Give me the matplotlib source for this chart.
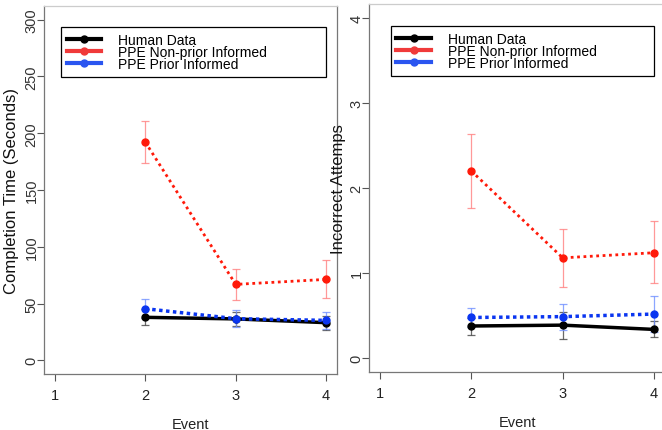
import numpy as np
import matplotlib.pyplot as plt
from matplotlib.lines import Line2D

plt.rcParams['font.family'] = ['Liberation Sans', 'DejaVu Sans']

events = [2, 3, 4]
labels = ["Human Data", "PPE Non-prior Informed", "PPE Prior Informed"]

# completion time (seconds): mean, lower, upper
time_human = [37.9, 36.5, 33.2]
time_human_lo = [31.0, 30.5, 27.0]
time_human_hi = [45.0, 42.5, 39.5]
time_non = [192.2, 66.9, 71.3]
time_non_lo = [173.4, 53.1, 55.2]
time_non_hi = [210.6, 80.7, 88.0]
time_prior = [45.5, 36.7, 35.2]
time_prior_lo = [37.5, 29.3, 28.0]
time_prior_hi = [53.7, 44.3, 42.5]

# incorrect attempts: mean, lower, upper
att_human = [0.38, 0.39, 0.34]
att_human_lo = [0.28, 0.23, 0.25]
att_human_hi = [0.47, 0.55, 0.44]
att_non = [2.20, 1.18, 1.24]
att_non_lo = [1.76, 0.84, 0.89]
att_non_hi = [2.63, 1.52, 1.61]
att_prior = [0.48, 0.49, 0.52]
att_prior_lo = [0.37, 0.33, 0.31]
att_prior_hi = [0.59, 0.64, 0.73]

red = '#ff1a0a'
blue = '#0a35f0'


def draw(ax, series, ylim, yticks, ylabel, leg_box, ylab_x):
    ax.set_xlim(0.88, 4.12)
    ax.set_ylim(*ylim)
    styles = [('black', '-', 2.5, '#444444'),
              (red, (0, (1, 1.3)), 2.0, '#ff8080'),
              (blue, (0, (1, 1.0)), 2.5, '#7090ff')]
    for (m, lo, hi), (c, ls, lw, ec) in zip(series, styles):
        m = np.array(m)
        err = [m - np.array(lo), np.array(hi) - m]
        ax.errorbar(events, m, yerr=err, fmt='none', ecolor=ec,
                    elinewidth=0.9, capsize=3, capthick=0.9, alpha=0.8, zorder=2)
    for (m, lo, hi), (c, ls, lw, ec) in zip(series, styles):
        ax.plot(events, m, color=c, linestyle=ls, lw=lw, marker='o',
                markersize=5, zorder=3)
    ax.set_xticks([1, 2, 3, 4])
    ax.set_yticks(yticks)
    ax.tick_params(axis='x', length=5, width=0.8, color='#555555',
                   labelsize=10.5, pad=5, labelcolor='#222222')
    ax.tick_params(axis='y', length=5, width=0.8, color='#555555',
                   labelsize=10.5, pad=-1, labelcolor='#333333')
    for t in ax.get_yticklabels():
        t.set_rotation(90)
        t.set_va('center')
    for s in ax.spines.values():
        s.set_color('#777777')
        s.set_linewidth(0.9)
    ax.spines['top'].set_color('#cccccc')
    ax.set_xlabel("Event", fontsize=10.5, labelpad=11, color='#222222')
    ax.set_ylabel(ylabel, fontsize=12, color='#111111')
    ax.yaxis.set_label_coords(ylab_x, 0.5)
    handles = [Line2D([], [], color=c, lw=3, marker='o', markersize=5)
               for c in ['black', '#f03a3a', '#2a55f0']]
    leg = ax.legend(handles, labels, loc='upper left',
                    bbox_to_anchor=leg_box, mode='expand',
                    fancybox=False, edgecolor='black', framealpha=1,
                    prop={'size': 10},
                    labelspacing=-0.12, handlelength=2.5, handletextpad=1.2,
                    borderpad=0.4, borderaxespad=0)
    leg.get_frame().set_linewidth(0.9)


fig = plt.figure(figsize=(6.62, 4.31), dpi=100)
ax1 = fig.add_axes([44 / 662, 56 / 431, 293 / 662, 368 / 431])
ax2 = fig.add_axes([369 / 662, 58 / 431, 296 / 662, 368 / 431])

draw(ax1, [(time_human, time_human_lo, time_human_hi),
           (time_non, time_non_lo, time_non_hi),
           (time_prior, time_prior_lo, time_prior_hi)],
     (-12, 312), [0, 50, 100, 150, 200, 250, 300], "Completion Time (Seconds)",
     (0.058, 0.943, 0.904, 0.0), -0.085)
draw(ax2, [(att_human, att_human_lo, att_human_hi),
           (att_non, att_non_lo, att_non_hi),
           (att_prior, att_prior_lo, att_prior_hi)],
     (-0.16, 4.16), [0, 1, 2, 3, 4], "Incorrect Attemps",
     (0.074, 0.94, 0.889, 0.0), -0.078)

fig.savefig("out.png", dpi=100)
